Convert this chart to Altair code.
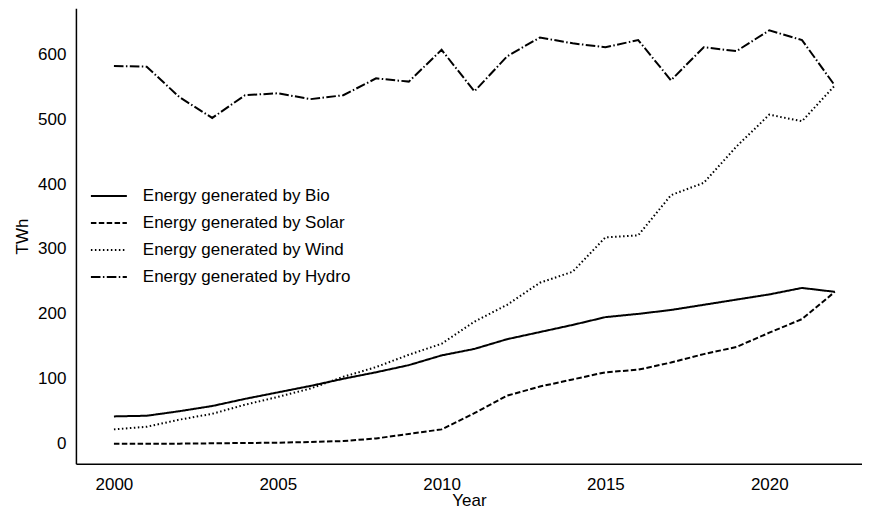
import altair as alt
import pandas as pd

years = list(range(2000, 2023))
bio = [42, 43, 50, 58, 69, 79, 89, 100, 110, 121, 136, 146, 161, 172, 183, 195, 200, 206, 214, 222, 230, 240, 234]
solar = [0, 0, 0, 0.5, 1, 1.5, 2.5, 4, 8, 15, 22, 47, 74, 88, 99, 110, 114, 125, 138, 149, 171, 192, 234]
wind = [22, 26, 37, 46, 60, 72, 85, 103, 118, 137, 154, 188, 214, 248, 265, 318, 321, 383, 402, 458, 507, 497, 552]
hydro = [582, 581, 534, 502, 537, 540, 531, 537, 563, 558, 607, 543, 597, 626, 617, 611, 622, 560, 611, 605, 637, 622, 552]

series_names = ["Energy generated by Bio", "Energy generated by Solar",
                "Energy generated by Wind", "Energy generated by Hydro"]
series_values = [bio, solar, wind, hydro]

rows = []
for name, vals in zip(series_names, series_values):
    for y, v in zip(years, vals):
        rows.append({"Year": y, "TWh": v, "Series": name})
df = pd.DataFrame(rows)

dashes = [[1, 0], [5.5, 2.4], [1.5, 2.5], [9.6, 2.4, 1.5, 2.4]]

chart = alt.Chart(df).mark_line(strokeWidth=2, color="black").encode(
    x=alt.X("Year:Q", scale=alt.Scale(domain=[1998.84, 2022.83], nice=False, zero=False),
            axis=alt.Axis(values=[2000, 2005, 2010, 2015, 2020], format="d", title="Year",
                          labelPadding=13, titlePadding=0)),
    y=alt.Y("TWh:Q", scale=alt.Scale(domain=[-31, 671], nice=False, zero=False),
            axis=alt.Axis(values=[0, 100, 200, 300, 400, 500, 600], title="TWh",
                          labelPadding=10, titlePadding=6)),
    strokeDash=alt.StrokeDash("Series:N", sort=series_names,
                              scale=alt.Scale(domain=series_names, range=dashes),
                              legend=alt.Legend(title=None, orient="none", legendX=14, legendY=169,
                                                symbolType="stroke", symbolSize=1296,
                                                symbolStrokeWidth=2, symbolStrokeColor="black",
                                                labelFont="Liberation Sans", labelFontSize=17,
                                                labelColor="black", labelOffset=15, labelLimit=0,
                                                rowPadding=-10.5, padding=0)),
    detail="Series:N",
).properties(
    width=787, height=456, padding={"left": 5, "top": 0, "right": 0, "bottom": 0}
).configure_view(stroke=None).configure_axis(
    grid=False, ticks=False, domainColor="black", domainWidth=1.5,
    labelFont="Liberation Sans", labelFontSize=17, labelColor="black",
    titleFont="Liberation Sans", titleFontSize=17, titleFontWeight="normal", titleColor="black",
)

chart.save("out.html", embed_options={"renderer": "svg", "actions": False})
